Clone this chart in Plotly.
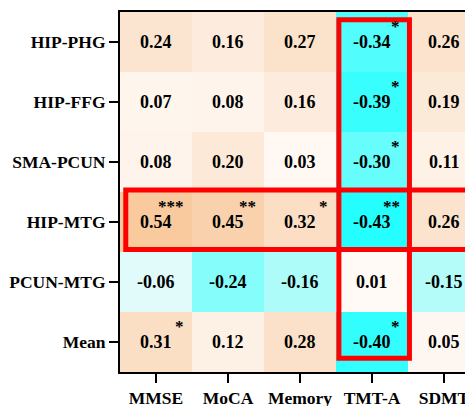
import plotly.graph_objects as go

rows = ["HIP-PHG", "HIP-FFG", "SMA-PCUN", "HIP-MTG", "PCUN-MTG", "Mean"]
cols = ["MMSE", "MoCA", "Memory", "TMT-A", "SDMT"]

hip_phg = [0.24, 0.16, 0.27, -0.34, 0.26]
hip_ffg = [0.07, 0.08, 0.16, -0.39, 0.19]
sma_pcun = [0.08, 0.20, 0.03, -0.30, 0.11]
hip_mtg = [0.54, 0.45, 0.32, -0.43, 0.26]
pcun_mtg = [-0.06, -0.24, -0.16, 0.01, -0.15]
mean_row = [0.31, 0.12, 0.28, -0.40, 0.05]
values = [hip_phg, hip_ffg, sma_pcun, hip_mtg, pcun_mtg, mean_row]

stars = [
    ["", "", "", "*", ""],
    ["", "", "", "*", ""],
    ["", "", "", "*", ""],
    ["***", "**", "*", "**", ""],
    ["", "", "", "", ""],
    ["*", "", "", "*", ""],
]

FONT = "Liberation Serif"
zmin, zmax = -0.5, 0.6
zero = (0 - zmin) / (zmax - zmin)

# the page body has an 8px margin, so the figure is sized to fit the window
W, H = 465, 398

fig = go.Figure()
fig.add_trace(go.Heatmap(
    z=values,
    x=list(range(len(cols))),
    y=list(range(len(rows))),
    zmin=zmin, zmax=zmax,
    colorscale=[[0, "rgb(0,255,255)"], [zero, "rgb(255,251,248)"], [1, "rgb(247,196,148)"]],
    showscale=False,
    hoverinfo="skip",
))

annotations = []
for r, row in enumerate(values):
    for c, v in enumerate(row):
        annotations.append(dict(
            x=c, y=r, xref="x", yref="y", text=f"<b>{v:.2f}</b>", showarrow=False,
            font=dict(family=FONT, size=18, color="black"),
            xanchor="center", yanchor="middle",
        ))
        s = stars[r][c]
        if s:
            annotations.append(dict(
                x=c + 0.41, y=r - 0.26, xref="x", yref="y", text=f"<b>{s}</b>", showarrow=False,
                font=dict(family=FONT, size=17, color="black"),
                xanchor="right", yanchor="middle",
            ))

shapes = [
    dict(type="rect", xref="x", yref="y", x0=2.54, x1=3.52, y0=-0.37, y1=5.27,
         line=dict(color="rgb(255,0,0)", width=5), fillcolor="rgba(0,0,0,0)"),
    dict(type="rect", xref="x", yref="y", x0=-0.42, x1=4.7, y0=2.467, y1=3.458,
         line=dict(color="rgb(255,0,0)", width=5), fillcolor="rgba(0,0,0,0)"),
]

fig.update_layout(
    width=W, height=H,
    margin=dict(l=112, r=0, t=4, b=34, autoexpand=False),
    paper_bgcolor="white", plot_bgcolor="white",
    annotations=annotations, shapes=shapes,
    font=dict(family=FONT, size=17.5, color="black"),
)
fig.update_xaxes(
    range=[-0.5, -0.5 + 353 / 72], tickvals=list(range(len(cols))),
    ticktext=[f"<b>{c}</b>" for c in cols],
    ticks="outside", ticklen=9, tickwidth=2, tickcolor="black",
    showline=True, linewidth=2, linecolor="black", mirror=True,
    showgrid=False, zeroline=False, automargin=False,
    tickfont=dict(family=FONT, size=17.5, color="black"),
)
fig.update_yaxes(
    range=[5.5, -0.5], tickvals=list(range(len(rows))),
    ticktext=[f"<b>{r}</b>" for r in rows],
    ticks="outside", ticklen=9, tickwidth=2, tickcolor="black",
    showline=True, linewidth=2, linecolor="black",
    showgrid=False, zeroline=False, automargin=False,
    tickfont=dict(family=FONT, size=17.5, color="black"),
)

fig.write_html("out.html")
